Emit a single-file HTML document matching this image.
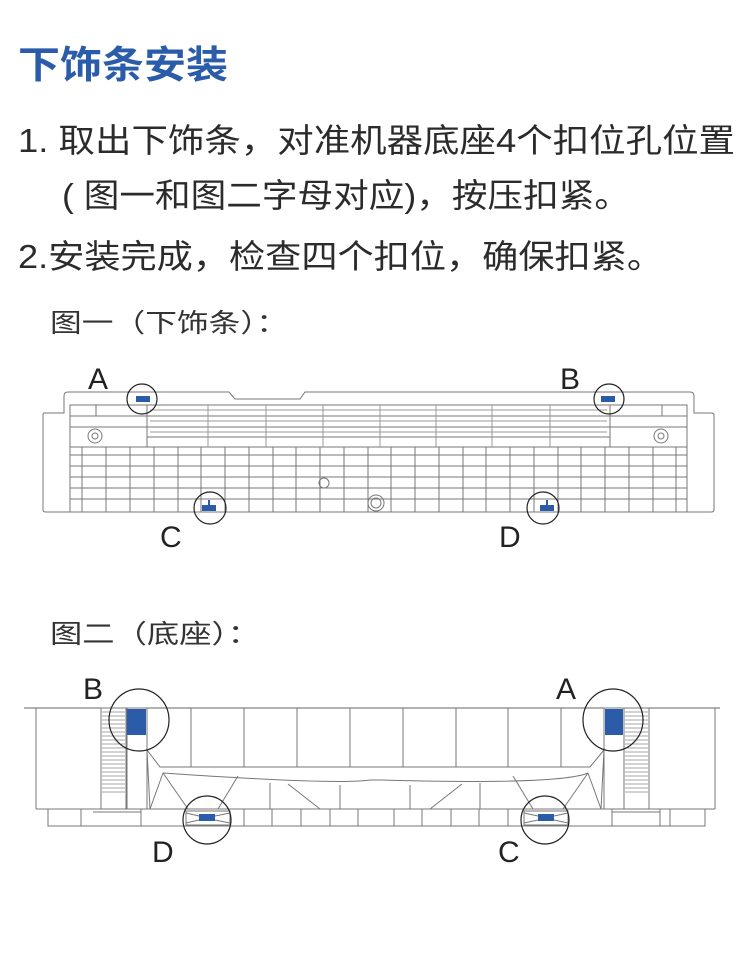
<!DOCTYPE html>
<html><head><meta charset="utf-8"><style>
html,body{margin:0;padding:0;background:#fff;}
svg{display:block;}
text{font-family:"Liberation Sans","Noto Sans CJK SC",sans-serif;}
</style></head><body>
<svg width="750" height="968" viewBox="0 0 750 968" xmlns="http://www.w3.org/2000/svg">
<text x="18" y="78" font-size="38" font-weight="bold" fill="#2a5caa" textLength="210" lengthAdjust="spacingAndGlyphs">下饰条安装</text>
<g fill="#2b2b2b" font-size="33">
<text x="18" y="152" textLength="717" lengthAdjust="spacingAndGlyphs">1. 取出下饰条，对准机器底座4个扣位孔位置</text>
<text x="62" y="207" textLength="568" lengthAdjust="spacingAndGlyphs">( 图一和图二字母对应)，按压扣紧。</text>
<text x="18" y="268" textLength="645" lengthAdjust="spacingAndGlyphs">2.安装完成，检查四个扣位，确保扣紧。</text>
</g>
<g fill="#333" font-size="26">
<text x="50" y="332" textLength="238" lengthAdjust="spacingAndGlyphs">图一（下饰条）：</text>
<text x="50" y="643" textLength="210" lengthAdjust="spacingAndGlyphs">图二（底座）：</text>
</g>
<g fill="#222" font-size="30">
<text x="88" y="389">A</text><text x="560" y="389">B</text>
<text x="160" y="547">C</text><text x="499" y="547">D</text>
<text x="83" y="699">B</text><text x="556" y="699">A</text>
<text x="152" y="862">D</text><text x="498" y="862">C</text>
</g>
<!-- Figure 1 -->
<g fill="none" stroke="#777" stroke-width="1">
<path d="M64,413 L44,413 Q43,413 43,415 L43,510 Q43,512 46,512 L711,512 Q714,512 714,510 L714,415 Q714,413 711,413 L694,413 L694,396 Q694,392 690,392 L305,392 L300,399 L235,399 L229,392 L68,392 Q64,392 64,396 Z"/>
<rect x="70" y="405" width="617" height="107"/>
<line x1="70" y1="416" x2="687" y2="416"/>
<line x1="70" y1="427" x2="687" y2="427"/>
<line x1="147" y1="437" x2="610" y2="437"/>
<line x1="70" y1="447" x2="687" y2="447"/>
<line x1="147" y1="405" x2="147" y2="447"/>
<line x1="610" y1="405" x2="610" y2="447"/>
<line x1="96" y1="405" x2="96" y2="416"/>
<line x1="662" y1="405" x2="662" y2="416"/>
<g stroke="#999">
<line x1="208" y1="405" x2="208" y2="447"/><line x1="266" y1="405" x2="266" y2="447"/>
<line x1="323" y1="405" x2="323" y2="447"/><line x1="380" y1="405" x2="380" y2="447"/>
<line x1="436" y1="405" x2="436" y2="447"/><line x1="492" y1="405" x2="492" y2="447"/>
<line x1="550" y1="405" x2="550" y2="447"/>
<line x1="150" y1="410" x2="607" y2="410"/><line x1="150" y1="421" x2="607" y2="421"/><line x1="150" y1="432" x2="607" y2="432"/>
</g>
<line x1="70" y1="455" x2="687" y2="455"/>
<line x1="70" y1="466" x2="687" y2="466"/>
<line x1="70" y1="477" x2="687" y2="477"/>
<line x1="70" y1="488" x2="687" y2="488"/>
<line x1="70" y1="499" x2="687" y2="499"/>
<g id="cols">
<line x1="82" y1="447" x2="82" y2="512"/><line x1="106" y1="447" x2="106" y2="512"/>
<line x1="130" y1="447" x2="130" y2="512"/><line x1="154" y1="447" x2="154" y2="512"/>
<line x1="178" y1="447" x2="178" y2="512"/><line x1="201" y1="447" x2="201" y2="512"/>
<line x1="225" y1="447" x2="225" y2="512"/><line x1="249" y1="447" x2="249" y2="512"/>
<line x1="273" y1="447" x2="273" y2="512"/><line x1="296" y1="447" x2="296" y2="512"/>
<line x1="320" y1="447" x2="320" y2="512"/><line x1="344" y1="447" x2="344" y2="512"/>
<line x1="368" y1="447" x2="368" y2="512"/><line x1="391" y1="447" x2="391" y2="512"/>
<line x1="415" y1="447" x2="415" y2="512"/><line x1="439" y1="447" x2="439" y2="512"/>
<line x1="463" y1="447" x2="463" y2="512"/><line x1="486" y1="447" x2="486" y2="512"/>
<line x1="510" y1="447" x2="510" y2="512"/><line x1="534" y1="447" x2="534" y2="512"/>
<line x1="558" y1="447" x2="558" y2="512"/><line x1="581" y1="447" x2="581" y2="512"/>
<line x1="605" y1="447" x2="605" y2="512"/><line x1="629" y1="447" x2="629" y2="512"/>
<line x1="653" y1="447" x2="653" y2="512"/><line x1="676" y1="447" x2="676" y2="512"/>
</g>
<circle cx="95" cy="436" r="7"/><circle cx="95" cy="436" r="3"/>
<circle cx="661" cy="436" r="7"/><circle cx="661" cy="436" r="3"/>
<circle cx="324" cy="483" r="5"/>
<circle cx="376" cy="503" r="8"/><circle cx="376" cy="503" r="5"/>
</g>
<g fill="#2a5caa">
<rect x="136" y="396" width="14" height="6"/><rect x="601" y="396" width="14" height="6"/>
<rect x="202" y="505" width="14" height="6"/><rect x="208" y="500" width="2" height="6"/>
<rect x="540" y="505" width="14" height="6"/><rect x="546" y="500" width="2" height="6"/>
</g>
<g fill="none" stroke="#222" stroke-width="1.2">
<circle cx="142" cy="399" r="15"/><circle cx="609" cy="399" r="15"/>
<circle cx="210" cy="508" r="16"/><circle cx="543" cy="508" r="16"/>
</g>
<!-- Figure 2 -->
<g fill="none" stroke="#777" stroke-width="1">
<line x1="24" y1="708" x2="720" y2="708" stroke="#666"/>
<line x1="36" y1="708" x2="36" y2="809"/><line x1="715" y1="708" x2="715" y2="809"/>
<line x1="36" y1="809" x2="715" y2="809"/>
<rect x="48" y="809" width="657" height="17"/>
<g>
<line x1="81" y1="809" x2="81" y2="826"/><line x1="93" y1="812" x2="141" y2="812"/><line x1="141" y1="809" x2="141" y2="826"/>
<line x1="244" y1="809" x2="244" y2="826"/><line x1="272" y1="809" x2="272" y2="826"/><line x1="301" y1="809" x2="301" y2="826"/>
<line x1="330" y1="809" x2="330" y2="826"/><line x1="358" y1="809" x2="358" y2="826"/><line x1="394" y1="809" x2="394" y2="826"/>
<line x1="422" y1="809" x2="422" y2="826"/><line x1="451" y1="809" x2="451" y2="826"/><line x1="479" y1="809" x2="479" y2="826"/>
<line x1="508" y1="809" x2="508" y2="826"/><line x1="612" y1="809" x2="612" y2="826"/><line x1="612" y1="812" x2="660" y2="812"/>
<line x1="660" y1="809" x2="660" y2="826"/><line x1="670" y1="809" x2="670" y2="826"/>
</g>
<rect x="101" y="708" width="25" height="101"/>
<rect x="127" y="708" width="20" height="101"/>
<rect x="604" y="708" width="20" height="101"/>
<rect x="624" y="708" width="25" height="101"/>
<line x1="191" y1="708" x2="191" y2="767"/><line x1="244" y1="708" x2="244" y2="767"/>
<line x1="297" y1="708" x2="297" y2="767"/><line x1="350" y1="708" x2="350" y2="767"/>
<line x1="403" y1="708" x2="403" y2="767"/><line x1="456" y1="708" x2="456" y2="767"/>
<line x1="508" y1="708" x2="508" y2="767"/><line x1="561" y1="708" x2="561" y2="767"/>
<path d="M147,750 L160,767 L590,767 L604,750"/>
<path d="M163,773 Q337,785 370,780 L380,780 Q560,785 588,773"/>
<path d="M147,750 L150,809 M604,750 L601,809"/>
<path d="M163,773 L150,809 M163,773 L188,809 M238,776 L218,809 M270,783 L270,809 M288,784 L320,809 M340,785 L340,809"/>
<path d="M588,773 L601,809 M588,773 L563,809 M513,776 L533,809 M480,783 L480,809 M462,784 L430,809 M410,785 L410,809"/>
<path d="M186,813 L199,816 M186,823 L199,820 M230,813 L215,816 M230,823 L215,820"/>
<path d="M524,813 L538,816 M524,823 L538,820 M568,813 L554,816 M568,823 L554,820"/>
<rect x="186" y="811" width="44" height="14"/><rect x="524" y="811" width="44" height="14"/>
</g>
<g stroke="#888" stroke-width="0.8">
<path d="M102,712H125M102,716H125M102,720H125M102,724H125M102,728H125M102,732H125M102,736H125M102,740H125M102,744H125M102,748H125M102,752H125M102,756H125M102,760H125M102,764H125M102,768H125M102,772H125M102,776H125M102,780H125M102,784H125M102,788H125M102,792H125"/>
<path d="M625,712H648M625,716H648M625,720H648M625,724H648M625,728H648M625,732H648M625,736H648M625,740H648M625,744H648M625,748H648M625,752H648M625,756H648M625,760H648M625,764H648M625,768H648M625,772H648M625,776H648M625,780H648M625,784H648M625,788H648M625,792H648"/>
</g>
<g fill="#2a5caa">
<rect x="127" y="709" width="19" height="26"/><rect x="605" y="709" width="18" height="26"/>
<rect x="199" y="814" width="16" height="7"/><rect x="538" y="814" width="16" height="7"/>
</g>
<g fill="none" stroke="#222" stroke-width="1.2">
<ellipse cx="139" cy="720" rx="30" ry="31"/><ellipse cx="613" cy="720" rx="30" ry="31"/>
<circle cx="207" cy="820" r="24"/><circle cx="545" cy="820" r="24"/>
</g>
</svg>
</body></html>
